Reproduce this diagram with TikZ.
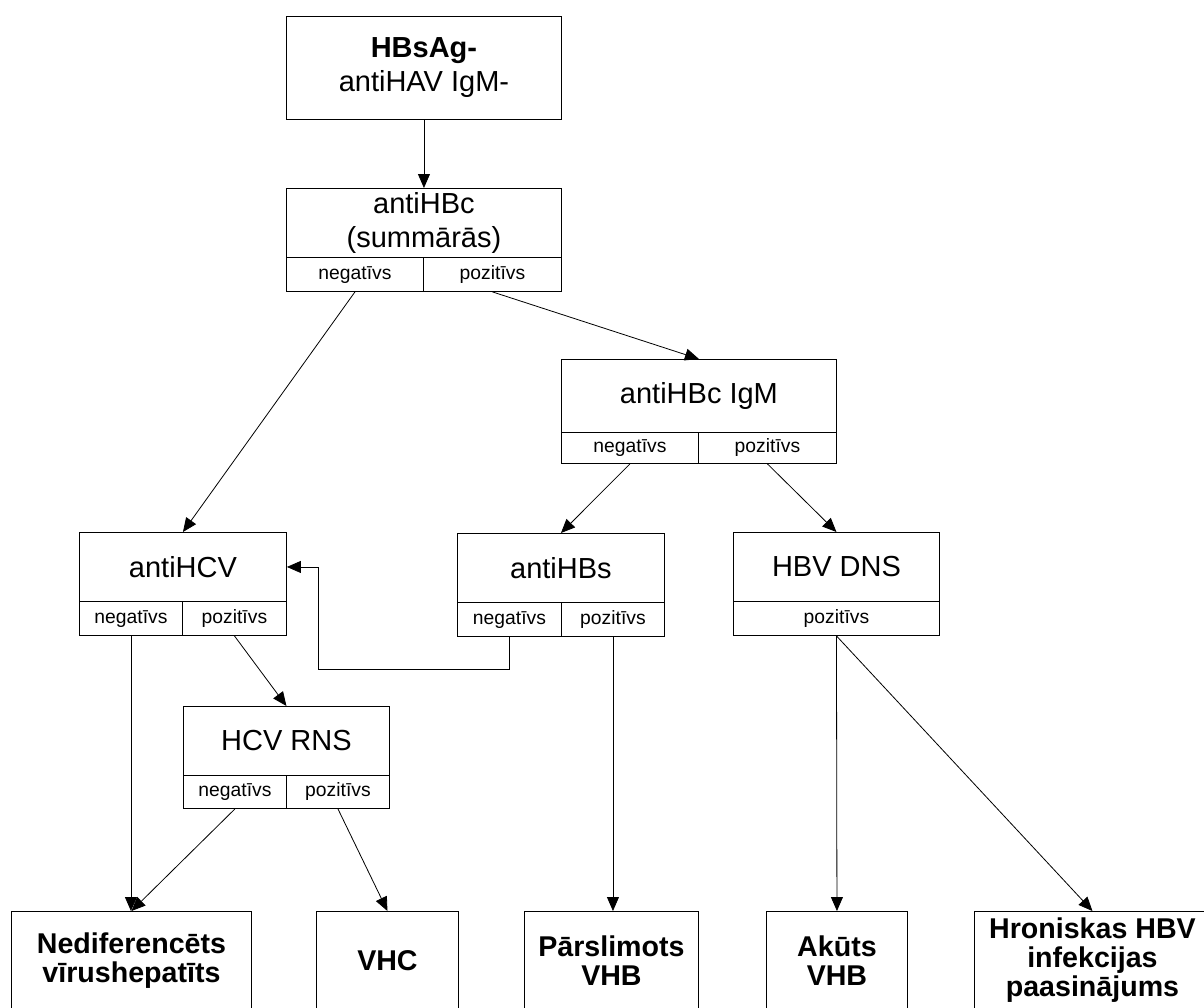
\documentclass[tikz,border=0pt]{standalone}
\usepackage{fontspec}
\setmainfont{Liberation Sans}
\usetikzlibrary{arrows.meta}
\begin{document}
\begin{tikzpicture}[x=1pt,y=-1pt,
  box/.style={draw, line width=0.9pt, inner sep=0pt, align=center, anchor=north west, font=\fontsize{29}{34}\selectfont},
  cell/.style={draw, line width=0.9pt, inner sep=0pt, anchor=north west, text height=14pt, text depth=4pt, font=\fontsize{19.3}{22}\selectfont},
  res/.style={draw, line width=0.9pt, inner sep=0pt, align=center, anchor=north west, font=\fontsize{28.6}{29}\selectfont\bfseries},
  arr/.style={line width=0.8pt, -{Triangle[length=14pt,width=12pt]}},
  ln/.style={line width=0.8pt}]
\useasboundingbox (0,0) rectangle (1204,1007);
\clip (0,0) rectangle (1204,1007);
% top
\node[box, minimum width=275pt, minimum height=103pt] (top) at (286,16) {{\bfseries HBsAg-}\\antiHAV IgM-};
% antiHBc
\node[box, minimum width=275pt, minimum height=69pt] (b2) at (286,188) {antiHBc\\(summārās)};
\node[cell, minimum width=137pt, minimum height=34pt] (b2n) at (286,257) {negatīvs};
\node[cell, minimum width=138pt, minimum height=34pt] (b2p) at (423,257) {pozitīvs};
% antiHBc IgM
\node[box, minimum width=275pt, minimum height=73pt] (b3) at (561,359) {antiHBc IgM};
\node[cell, minimum width=137pt, minimum height=31pt] (b3n) at (561,432) {negatīvs};
\node[cell, minimum width=138pt, minimum height=31pt] (b3p) at (698,432) {pozitīvs};
% antiHCV
\node[box, minimum width=207pt, minimum height=69pt] (b4) at (79,532) {antiHCV};
\node[cell, minimum width=103pt, minimum height=34pt] (b4n) at (79,601) {negatīvs};
\node[cell, minimum width=104pt, minimum height=34pt] (b4p) at (182,601) {pozitīvs};
% antiHBs
\node[box, minimum width=207pt, minimum height=69pt] (b5) at (457,533) {antiHBs};
\node[cell, minimum width=104pt, minimum height=34pt] (b5n) at (457,602) {negatīvs};
\node[cell, minimum width=103pt, minimum height=34pt] (b5p) at (561,602) {pozitīvs};
% HBV DNS
\node[box, minimum width=206pt, minimum height=69pt] (b6) at (733,532) {HBV DNS};
\node[cell, minimum width=206pt, minimum height=34pt] (b6p) at (733,601) {pozitīvs};
% HCV RNS
\node[box, minimum width=206pt, minimum height=69pt] (b7) at (183,706) {HCV RNS};
\node[cell, minimum width=103pt, minimum height=33pt] (b7n) at (183,775) {negatīvs};
\node[cell, minimum width=103pt, minimum height=33pt] (b7p) at (286,775) {pozitīvs};
% results
\node[res, minimum width=240pt, minimum height=98pt] (r1) at (11,911) {Nediferencēts\\vīrushepatīts};
\node[res, minimum width=142pt, minimum height=98pt] (r2) at (316,911) {VHC};
\node[res, minimum width=174pt, minimum height=98pt] (r3) at (524,911) {Pārslimots\\VHB};
\node[res, minimum width=141pt, minimum height=98pt] (r4) at (766,911) {Akūts\\VHB};
\node[res, minimum width=236pt, minimum height=98pt] (r5) at (974,911) {Hroniskas HBV\\infekcijas\\paasinājums};
% connectors
\draw[arr] (top.south) -- (b2.north);
\draw[arr] (b2n.south) -- (b4.north);
\draw[arr] (b2p.south) -- (b3.north);
\draw[arr] (b3n.south) -- (b5.north);
\draw[arr] (b3p.south) -- (b6.north);
\draw[arr] (b4n.south) -- (b4n.south |- r1.north);
\draw[arr] (b4p.south) -- (b7.north);
\draw[arr] (b7n.south) -- (r1.north);
\draw[arr] (b7p.south) -- (r2.north);
\coordinate (k) at (318,669);
\draw[arr] (b5n.south) |- (k) |- (b4.east);
\draw[arr] (b5p.south) -- (b5p.south |- r3.north);
\draw[arr] (b6p.south) -- (r4.north);
\draw[arr] (b6p.south) -- (r5.north);
\end{tikzpicture}
\end{document}
